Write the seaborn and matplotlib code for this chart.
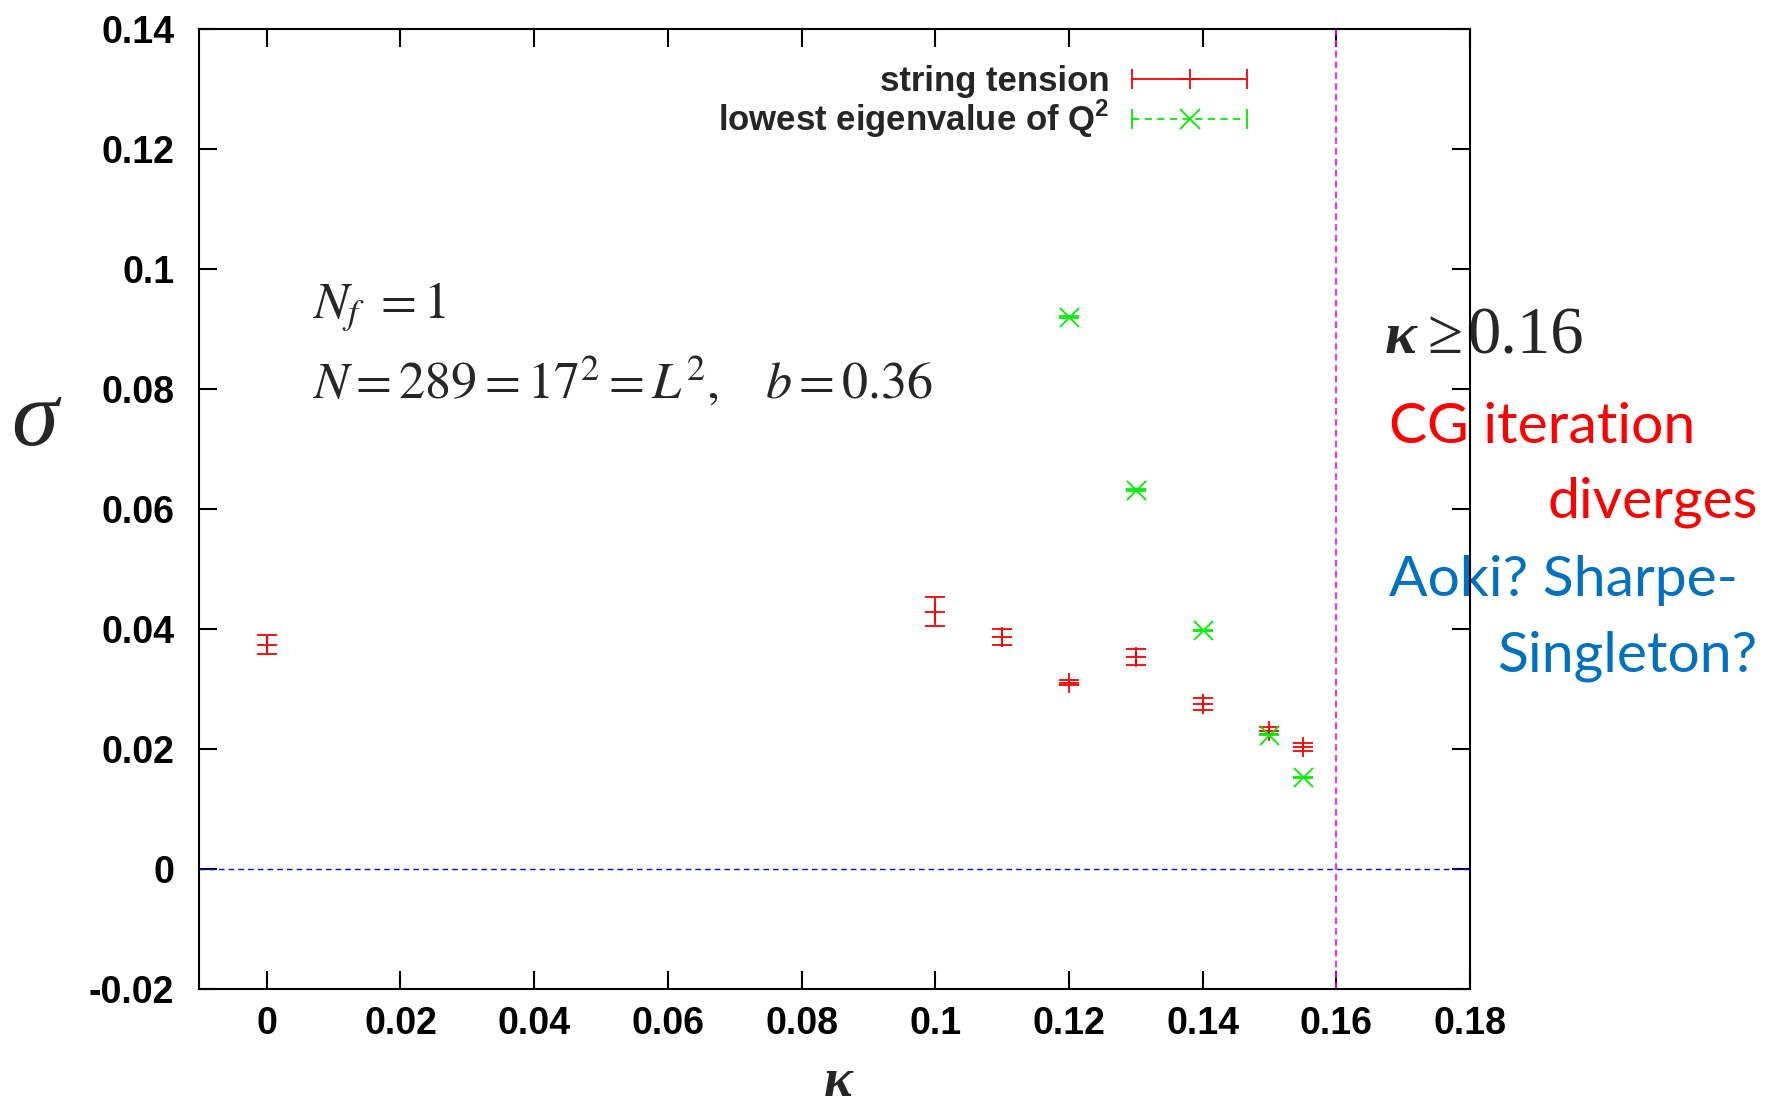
import numpy as np
import pandas as pd
import matplotlib
matplotlib.use("Agg")
import matplotlib.pyplot as plt
import seaborn as sns
from matplotlib.lines import Line2D
from matplotlib.legend_handler import HandlerBase

# --- data ---------------------------------------------------------------
kappa_sigma = [0.0, 0.10, 0.11, 0.12, 0.13, 0.14, 0.15, 0.155]
string_tension = [0.0374, 0.0429, 0.0387, 0.0311, 0.0354, 0.0276, 0.0231, 0.0204]
string_tension_err = [0.0016, 0.0024, 0.0013, 0.0004, 0.0013, 0.0010, 0.0006, 0.0007]

kappa_eig = [0.12, 0.13, 0.14, 0.15, 0.155]
lowest_eig = [0.0920, 0.0632, 0.0398, 0.0224, 0.0153]
lowest_eig_err = [0.0001, 0.0001, 0.0001, 0.0001, 0.0001]

kappa_c = 0.16
x_ticks = [0.0, 0.02, 0.04, 0.06, 0.08, 0.10, 0.12, 0.14, 0.16, 0.18]
y_ticks = [-0.02, 0.0, 0.02, 0.04, 0.06, 0.08, 0.10, 0.12, 0.14]

series_names = ["string tension", "lowest eigenvalue of Q$^{\\mathrm{2}}$"]

st_df = pd.DataFrame({"kappa": kappa_sigma, "sigma": string_tension, "err": string_tension_err})
eig_df = pd.DataFrame({"kappa": kappa_eig, "sigma": lowest_eig, "err": lowest_eig_err})

# --- style --------------------------------------------------------------
sns.set_theme(style="ticks")
plt.rcParams["font.family"] = ["Liberation Sans", "DejaVu Sans"]
plt.rcParams["axes.unicode_minus"] = False
plt.rcParams["mathtext.fontset"] = "custom"
plt.rcParams["mathtext.rm"] = "Liberation Sans:bold"
plt.rcParams["mathtext.bf"] = "Liberation Sans:bold"

RED = "#ff0000"
GREEN = "#00ee00"
BLUE = "#0000ff"
MAGENTA = "#ff00ff"
W, H = 1766, 1110

fig = plt.figure(figsize=(W / 100, H / 100), dpi=100)
ax = fig.add_axes([199.3 / W, 1 - 989.3 / H, 1270.7 / W, 960.3 / H])

MS = 13.7   # marker size, points
LW = 1.3

# string tension: error bars with '+' points
ax.errorbar(st_df["kappa"], st_df["sigma"], yerr=st_df["err"], fmt="none",
            ecolor=RED, elinewidth=LW, capsize=MS / 2, capthick=LW, zorder=3)
sns.scatterplot(data=st_df, x="kappa", y="sigma", marker="+", s=MS ** 2,
                color=RED, linewidth=LW, ax=ax, zorder=4, legend=False)

# lowest eigenvalue of Q^2: 'x' points with tiny error bars
ax.errorbar(eig_df["kappa"], eig_df["sigma"], yerr=eig_df["err"], fmt="none",
            ecolor=GREEN, elinewidth=LW, capsize=MS / 2, capthick=LW, zorder=3)
sns.scatterplot(data=eig_df, x="kappa", y="sigma", marker="x", s=MS ** 2,
                color=GREEN, linewidth=LW, ax=ax, zorder=4, legend=False)

ax.axhline(0.0, color=BLUE, lw=1.0, ls=(0, (4, 3)), zorder=2)
ax.axvline(kappa_c, color=MAGENTA, lw=1.2, ls=(0, (4, 2.5)), zorder=2)

ax.set_xlim(-0.0101, 0.18)
ax.set_ylim(-0.02, 0.14)
ax.set_xticks(x_ticks)
ax.set_xticklabels([f"{v:g}" for v in x_ticks])
ax.set_yticks(y_ticks)
ax.set_yticklabels([f"{v:g}" for v in y_ticks])
ax.tick_params(axis="both", which="major", direction="in", length=13, width=1.5,
               top=True, right=True, labelsize=27, color="black", labelcolor="black")
ax.tick_params(axis="y", pad=18)
ax.tick_params(axis="x", pad=12)
for lbl in ax.get_xticklabels() + ax.get_yticklabels():
    lbl.set_fontweight("bold")
for sp in ax.spines.values():
    sp.set_linewidth(1.5)
    sp.set_color("black")
    sp.set_zorder(5)

ax.set_xlabel("κ", family="Liberation Serif", style="italic", weight="bold",
              fontsize=39, va="baseline", ha="center")
ax.xaxis.set_label_coords(0.503, -0.1110)
ax.set_ylabel("σ", family="Liberation Serif", style="italic", fontsize=68,
              rotation=0, va="baseline", ha="center")
ax.yaxis.set_label_coords(-0.1296, 0.5668)


# gnuplot-style key sample: horizontal bar with end caps and the point symbol in the middle
class KeySample(HandlerBase):
    def __init__(self, color, linestyle, marker):
        super().__init__()
        self.color = color
        self.linestyle = linestyle
        self.marker = marker

    def create_artists(self, legend, orig_handle, xdescent, ydescent,
                       width, height, fontsize, trans):
        y = height / 2 - ydescent
        x0, x1 = -xdescent, width - xdescent
        bar = Line2D([x0, x1], [y, y], color=self.color, ls=self.linestyle, lw=LW)
        caps = Line2D([x0, x1], [y, y], ls="none", marker="|", ms=14, mew=LW,
                      color=self.color)
        mid = Line2D([(x0 + x1) / 2], [y], ls="none", marker=self.marker, ms=MS,
                     mew=LW, color=self.color)
        for a in (bar, caps, mid):
            a.set_transform(trans)
        return [bar, caps, mid]


h_st = Line2D([], [])
h_eig = Line2D([], [])
ax.legend([h_st, h_eig], series_names,
          handler_map={h_st: KeySample(RED, "-", "+"),
                       h_eig: KeySample(GREEN, (0, (4, 3)), "x")},
          loc="upper right", bbox_to_anchor=(0.8245, 0.9625), frameon=False,
          markerfirst=False, prop={"family": "Liberation Sans", "weight": "bold", "size": 25},
          handlelength=3.3, handletextpad=0.66, borderpad=0, borderaxespad=0,
          labelspacing=0.0)

# run parameters
def ftext(x, y, s, **kw):
    return ax.text(x / W, 1 - y / H, s, transform=fig.transFigure, clip_on=False,
                   va="baseline", zorder=2, **kw)

ftext(312, 318, r"$N_f\ =1$", fontsize=37.5, math_fontfamily="stix")
ftext(312, 399, r"$N=289=17^2=L^2,\quad b=0.36$", fontsize=37.5, math_fontfamily="stix")

# region beyond the critical hopping parameter
ftext(1385, 353, "κ", family="Liberation Serif", style="italic", weight="bold", fontsize=43)
ftext(1427, 353, "≥", family="Liberation Serif", fontsize=46)
ftext(1467, 353, "0.16", family="Liberation Serif", fontsize=48)
ftext(1389, 443, "CG iteration", family="Lato", fontsize=41, color=RED)
ftext(1758, 517, "diverges", family="Lato", fontsize=41, color=RED, ha="right")
ftext(1389, 596, "Aoki? Sharpe-", family="Lato", fontsize=41, color="#0070c0")
ftext(1757, 671, "Singleton?", family="Lato", fontsize=41, color="#0070c0", ha="right")

fig.savefig("out.png", dpi=100)
